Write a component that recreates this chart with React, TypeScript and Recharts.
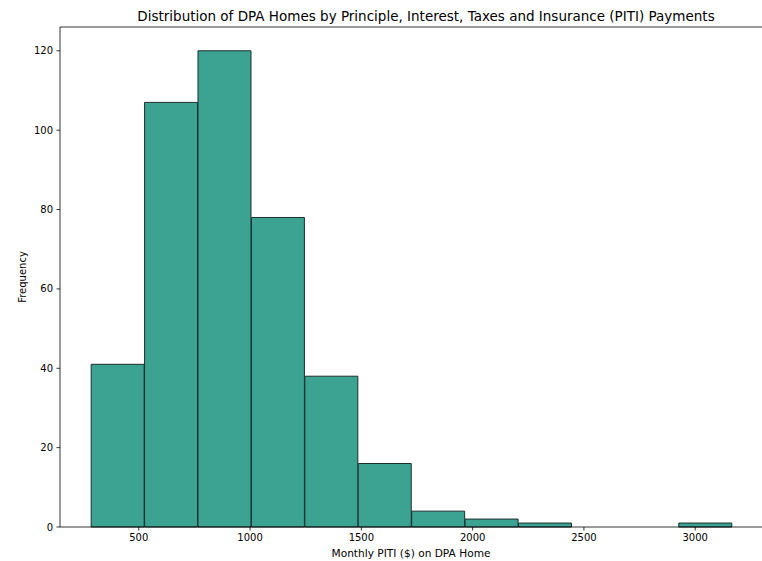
import React from 'react';
import { BarChart, Bar, XAxis, YAxis, ReferenceLine } from 'recharts';

const binEdges = [286, 526, 766, 1006, 1246, 1486, 1726, 1966, 2206, 2446, 2686, 2926, 3166];
const counts = [41, 107, 120, 78, 38, 16, 4, 2, 1, 0, 0, 1];
const xTicks = [500, 1000, 1500, 2000, 2500, 3000];
const yTicks = [0, 20, 40, 60, 80, 100, 120];
const xDomain = [146, 3300];
const yDomain = [0, 126];

const data = counts.map((c, i) => ({
  center: (binEdges[i] + binEdges[i + 1]) / 2,
  count: c,
}));

const font = '"DejaVu Sans", sans-serif';
const tickStyle = { fontSize: 10, fill: '#000', fontFamily: font };

export default function App() {
  return (
    <div style={{ position: 'absolute', left: 0, top: 0, width: 762, height: 561, background: '#fff' }}>
      <div
        style={{
          position: 'absolute',
          left: 0,
          width: 852,
          top: 8,
          textAlign: 'center',
          fontFamily: font,
          fontSize: 13.5,
          color: '#000',
          lineHeight: '16px',
          whiteSpace: 'nowrap',
        }}
      >
        Distribution of DPA Homes by Principle, Interest, Taxes and Insurance (PITI) Payments
      </div>
      <BarChart
        width={762}
        height={561}
        data={data}
        margin={{ top: 27, right: 0, left: 0, bottom: 0 }}
        barCategoryGap={0}
        barGap={0}
      >
        <XAxis
          type="number"
          dataKey="center"
          domain={xDomain}
          allowDataOverflow
          ticks={xTicks}
          interval={0}
          height={34}
          tickSize={3.5}
          tickMargin={3.5}
          tick={tickStyle}
          tickLine={{ stroke: '#000', strokeWidth: 0.8 }}
          axisLine={{ stroke: '#000', strokeWidth: 0.8 }}
          label={{
            value: 'Monthly PITI ($) on DPA Home',
            position: 'insideBottom',
            offset: 4,
            style: { fontSize: 10.6, fill: '#000', fontFamily: font },
          }}
        />
        <YAxis
          type="number"
          domain={yDomain}
          ticks={yTicks}
          interval={0}
          width={60}
          tickSize={3.5}
          tickMargin={3.5}
          tick={tickStyle}
          tickLine={{ stroke: '#000', strokeWidth: 0.8 }}
          axisLine={{ stroke: '#000', strokeWidth: 0.8 }}
          label={{
            value: 'Frequency',
            angle: -90,
            position: 'center',
            dx: -8,
            style: { fontSize: 10, fill: '#000', fontFamily: font, textAnchor: 'middle' },
          }}
        />
        <ReferenceLine y={yDomain[1]} stroke="#000" strokeWidth={0.8} ifOverflow="visible" />
        <Bar
          dataKey="count"
          fill="#3ca292"
          stroke="#1b2f2c"
          strokeWidth={1}
          isAnimationActive={false}
        />
      </BarChart>
    </div>
  );
}
